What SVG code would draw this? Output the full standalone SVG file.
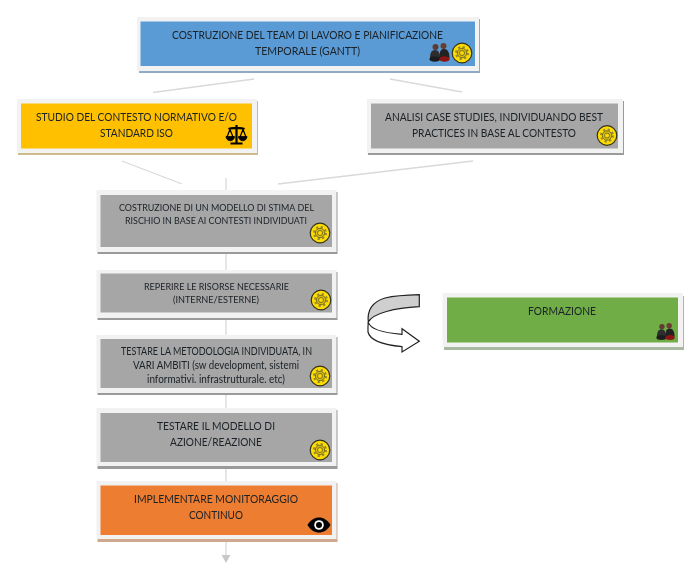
<svg xmlns="http://www.w3.org/2000/svg" width="700" height="575" viewBox="0 0 700 575">
<style>
text{font-family:Lato,"Liberation Sans",sans-serif;fill:#1a2026;text-anchor:middle;filter:url(#soft)}
.f{fill:#f2f2f2}
.c{stroke:#d9d9d9;stroke-width:1.3;fill:none}
.s{fill:#a6a6a6}
.i{filter:url(#soft)}
</style>
<defs>
<filter id="soft" x="-5%" y="-20%" width="110%" height="140%"><feGaussianBlur stdDeviation="0.3"/></filter>
<g id="gear" class="i">
<circle r="9.800" fill="#ffdc00" stroke="#33331c" stroke-width="1.200"/>
<circle r="6" fill="none" stroke="#8f8a3a" stroke-width="2" stroke-dasharray="2.200 2.512"/>
<circle r="4.700" fill="#d8bc10" stroke="#6f6420" stroke-width="0.900"/>
<circle r="2.500" fill="#ffdc00" stroke="#6f6420" stroke-width="0.900"/>
</g>
<g id="people" class="i">
<circle cx="-4.500" cy="-6" r="3" fill="#5f3a30"/>
<path d="M-10 6c0-4 .5-9 5-9s5 5 5.500 9z" fill="#2f2f2f"/>
<ellipse cx="-5.200" cy="6" rx="5.500" ry="2.800" fill="#1f1f1f"/>
<circle cx="3.500" cy="-7" r="3" fill="#6a3c30"/>
<path d="M-.5 5c0-4 0-9 4.500-9s5.500 5 5.500 9z" fill="#242020"/>
<ellipse cx="4.500" cy="6" rx="5.200" ry="2.800" fill="#8c1414"/>
</g>
</defs>
<g id="connectors">
<path class="c" d="M153 92.500L254 79M390 79L462 92M122 161L182 184M278 184L473 161M226 178V190M226 254V270M226 320V335M226 395V408M226 469V481M226 542V556"/>
<path d="M221.500 555h9l-4.500 8z" fill="#c8c8c8"/>
</g>
<g id="n1">
<rect x="139" y="19" width="341" height="54" fill="#8faac8"/>
<rect class="f" x="137" y="17" width="342" height="54"/>
<rect x="140.500" y="21.500" width="334.500" height="44.500" fill="#5b9bd5"/>
<text x="307.500" y="39" font-size="11.800" textLength="271" lengthAdjust="spacingAndGlyphs">COSTRUZIONE DEL TEAM DI LAVORO E PIANIFICAZIONE</text>
<text x="307.500" y="55" font-size="11.800" textLength="105" lengthAdjust="spacingAndGlyphs">TEMPORALE (GANTT)</text>
<use href="#people" x="440" y="53"/>
<use href="#gear" x="462" y="53"/>
</g>
<g id="n2">
<rect x="18" y="101" width="240" height="54" fill="#cdbb8c"/>
<rect class="f" x="17" y="99" width="240" height="54"/>
<rect x="21" y="103.500" width="231" height="45" fill="#ffc000"/>
<text x="136.500" y="121" font-size="11.800" textLength="201" lengthAdjust="spacingAndGlyphs">STUDIO DEL CONTESTO NORMATIVO E/O</text>
<text x="136.500" y="137" font-size="11.800" textLength="73" lengthAdjust="spacingAndGlyphs">STANDARD ISO</text>
<g fill="#000" stroke="#000" transform="translate(236.500 134.500)" class="i">
<path d="M0-9.500V8.500M-6 9H6M-8-5.500C-4-7-2-6 0-6.500C2-6 4-7 8-5.500" stroke-width="2.200" fill="none"/>
<path d="M-6.500-5L-9.500 2.500M-6.500-5L-3.500 2.500M6.500-5L3.500 2.500M6.500-5L9.500 2.500" stroke-width="1.200" fill="none"/>
<path d="M-10.500 2h8.500a4.200 4.200 0 0 1-8.500 0zM2 2h8.500a4.200 4.200 0 0 1-8.500 0z" stroke-width="0.800"/>
</g>
</g>
<g id="n3">
<rect x="368" y="101" width="256" height="54" fill="#9a9a9a"/>
<rect class="f" x="367" y="99" width="256" height="54"/>
<rect class="s" x="371" y="103.500" width="247" height="45"/>
<text x="494" y="121" font-size="11.800" textLength="218" lengthAdjust="spacingAndGlyphs">ANALISI CASE STUDIES, INDIVIDUANDO BEST</text>
<text x="494" y="137" font-size="11.800" textLength="164" lengthAdjust="spacingAndGlyphs">PRACTICES IN BASE AL CONTESTO</text>
<use href="#gear" x="607" y="135.500"/>
</g>
<g id="n4">
<rect x="97.500" y="192" width="240" height="62" fill="#9a9a9a"/>
<rect class="f" x="96.500" y="190" width="240" height="62"/>
<rect class="s" x="100.500" y="195" width="231.500" height="52"/>
<text x="216.500" y="211" font-size="10.400" textLength="195" lengthAdjust="spacingAndGlyphs">COSTRUZIONE DI UN MODELLO DI STIMA DEL</text>
<text x="216" y="224" font-size="10.400" textLength="182" lengthAdjust="spacingAndGlyphs">RISCHIO IN BASE AI CONTESTI INDIVIDUATI</text>
<use href="#gear" x="320" y="233"/>
</g>
<g id="n5">
<rect x="97.500" y="272" width="240" height="48" fill="#9a9a9a"/>
<rect class="f" x="96.500" y="270" width="240" height="48"/>
<rect class="s" x="100.500" y="273.500" width="231.500" height="39"/>
<text x="216.500" y="290" font-size="10.400" textLength="145" lengthAdjust="spacingAndGlyphs">REPERIRE LE RISORSE NECESSARIE</text>
<text x="216" y="303" font-size="10.400" textLength="86" lengthAdjust="spacingAndGlyphs">(INTERNE/ESTERNE)</text>
<use href="#gear" x="321" y="300"/>
</g>
<g id="n6">
<rect x="97.500" y="337" width="240" height="58" fill="#9a9a9a"/>
<rect class="f" x="96.500" y="335" width="240" height="58"/>
<rect class="s" x="100.500" y="339" width="231.500" height="49"/>
<text x="216.500" y="355" font-size="11.200" textLength="191" lengthAdjust="spacingAndGlyphs">TESTARE LA METODOLOGIA INDIVIDUATA, IN</text>
<text x="216" y="369" font-size="11.200" textLength="166" lengthAdjust="spacingAndGlyphs">VARI AMBITI (sw development, sistemi</text>
<text x="216" y="383" font-size="11.200" textLength="138" lengthAdjust="spacingAndGlyphs">informativi. infrastrutturale. etc)</text>
<use href="#gear" x="320" y="376"/>
</g>
<g id="n7">
<rect x="97.500" y="410" width="240" height="59" fill="#9a9a9a"/>
<rect class="f" x="96.500" y="408" width="240" height="58"/>
<rect class="s" x="100.500" y="413" width="231.500" height="49"/>
<text x="216" y="430" font-size="11.800" textLength="118" lengthAdjust="spacingAndGlyphs">TESTARE IL MODELLO DI</text>
<text x="216" y="446" font-size="11.800" textLength="92" lengthAdjust="spacingAndGlyphs">AZIONE/REAZIONE</text>
<use href="#gear" x="320" y="450"/>
</g>
<g id="n8">
<rect x="97.500" y="483" width="240" height="59" fill="#cfa88e"/>
<rect class="f" x="96.500" y="481" width="240" height="58"/>
<rect x="100.500" y="485.500" width="231.500" height="49.500" fill="#ed7d31"/>
<text x="216" y="503" font-size="11.800" textLength="164" lengthAdjust="spacingAndGlyphs">IMPLEMENTARE MONITORAGGIO</text>
<text x="216" y="519" font-size="11.800" textLength="54" lengthAdjust="spacingAndGlyphs">CONTINUO</text>
<g transform="translate(319 525)" class="i">
<path d="M-11.500 0C-6-10 6-10 11.500 0C6 10-6 10-11.500 0z" fill="#000"/>
<circle r="4.800" fill="#fff"/>
<circle r="3" fill="#000"/>
</g>
</g>
<g id="arrow">
<path d="M419.300 294.700V306.700C395 308 373 313 368.300 322C367 310 372 302 385 298C396 295.500 408 295 419.300 294.700z" fill="#cfcfcf" stroke="#222" stroke-width="1.200"/>
<path d="M368.300 322C370 330 385 333 402 334.300V328.700L419.300 341.300L402 352V346.700C385 345 370 341 368 332C367.800 328 368 325 368.300 322z" fill="#fff" stroke="#222" stroke-width="1.200"/>
</g>
<g id="n9">
<rect x="444" y="296" width="240" height="54" fill="#a9b8a0"/>
<rect class="f" x="442.500" y="293" width="240.500" height="54"/>
<rect x="447" y="297.500" width="231" height="45" fill="#70ad47"/>
<text x="562" y="315" font-size="11.800" textLength="68" lengthAdjust="spacingAndGlyphs">FORMAZIONE</text>
<use href="#people" transform="translate(666 332) scale(0.900)"/>
</g>
</svg>
